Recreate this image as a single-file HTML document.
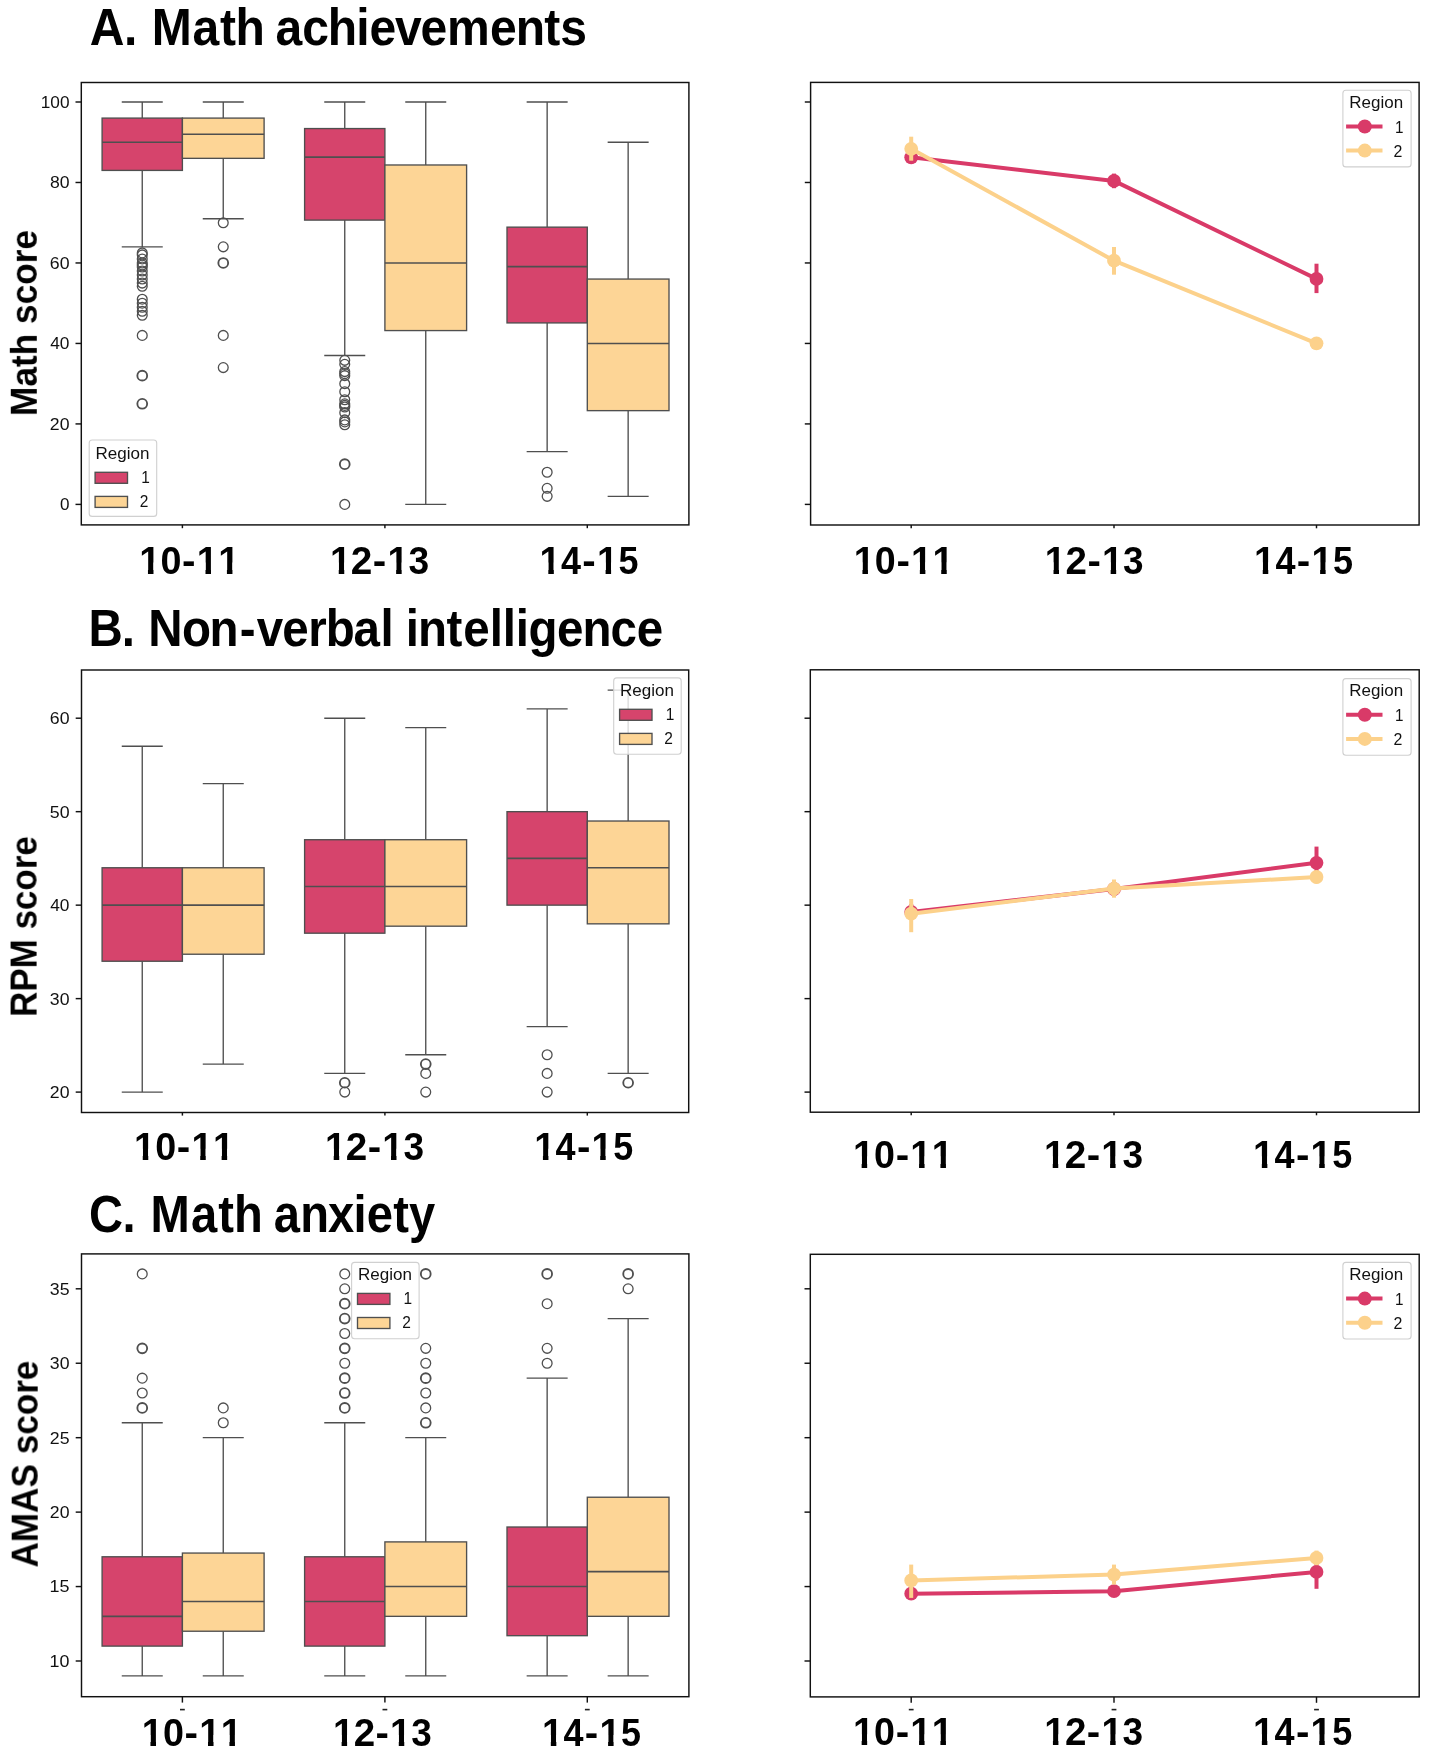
<!DOCTYPE html><html><head><meta charset="utf-8"><style>html,body{margin:0;padding:0;background:#fff;overflow:hidden;}svg{display:block;}text{font-family:"Liberation Sans",sans-serif;}</style></head><body>
<svg width="1429" height="1760" viewBox="0 0 1429 1760">
<rect x="0" y="0" width="1429" height="1760" fill="#fff"/>
<path d="M142.25 118.1V102M142.25 170.41V246.86M121.75 102H162.75M121.75 246.86H162.75" stroke="#4F4F4F" stroke-width="1.35" fill="none"/>
<rect x="102.1" y="118.1" width="80.3" height="52.31" fill="#D6446C" stroke="#4F4F4F" stroke-width="1.35"/>
<path d="M102.1 142.24H182.4" stroke="#4F4F4F" stroke-width="1.6" fill="none"/>
<circle cx="142.25" cy="252.9" r="4.9" fill="none" stroke="#4F4F4F" stroke-width="1.3"/>
<circle cx="142.25" cy="254.91" r="4.9" fill="none" stroke="#4F4F4F" stroke-width="1.3"/>
<circle cx="142.25" cy="258.94" r="4.9" fill="none" stroke="#4F4F4F" stroke-width="1.3"/>
<circle cx="142.25" cy="262.96" r="4.9" fill="none" stroke="#4F4F4F" stroke-width="1.3"/>
<circle cx="142.25" cy="264.97" r="4.9" fill="none" stroke="#4F4F4F" stroke-width="1.3"/>
<circle cx="142.25" cy="266.98" r="4.9" fill="none" stroke="#4F4F4F" stroke-width="1.3"/>
<circle cx="142.25" cy="271.01" r="4.9" fill="none" stroke="#4F4F4F" stroke-width="1.3"/>
<circle cx="142.25" cy="275.03" r="4.9" fill="none" stroke="#4F4F4F" stroke-width="1.3"/>
<circle cx="142.25" cy="279.06" r="4.9" fill="none" stroke="#4F4F4F" stroke-width="1.3"/>
<circle cx="142.25" cy="283.08" r="4.9" fill="none" stroke="#4F4F4F" stroke-width="1.3"/>
<circle cx="142.25" cy="286.3" r="4.9" fill="none" stroke="#4F4F4F" stroke-width="1.3"/>
<circle cx="142.25" cy="299.18" r="4.9" fill="none" stroke="#4F4F4F" stroke-width="1.3"/>
<circle cx="142.25" cy="303.2" r="4.9" fill="none" stroke="#4F4F4F" stroke-width="1.3"/>
<circle cx="142.25" cy="307.22" r="4.9" fill="none" stroke="#4F4F4F" stroke-width="1.3"/>
<circle cx="142.25" cy="311.25" r="4.9" fill="none" stroke="#4F4F4F" stroke-width="1.3"/>
<circle cx="142.25" cy="315.27" r="4.9" fill="none" stroke="#4F4F4F" stroke-width="1.3"/>
<circle cx="142.25" cy="335.39" r="4.9" fill="none" stroke="#4F4F4F" stroke-width="1.3"/>
<circle cx="142.25" cy="375.63" r="4.9" fill="none" stroke="#4F4F4F" stroke-width="1.85"/>
<circle cx="142.25" cy="403.8" r="4.9" fill="none" stroke="#4F4F4F" stroke-width="1.85"/>
<path d="M223.25 118.1V102M223.25 158.34V218.7M202.75 102H243.75M202.75 218.7H243.75" stroke="#4F4F4F" stroke-width="1.35" fill="none"/>
<rect x="182.4" y="118.1" width="81.7" height="40.24" fill="#FDD596" stroke="#4F4F4F" stroke-width="1.35"/>
<path d="M182.4 134.19H264.1" stroke="#4F4F4F" stroke-width="1.6" fill="none"/>
<circle cx="223.25" cy="222.72" r="4.9" fill="none" stroke="#4F4F4F" stroke-width="1.3"/>
<circle cx="223.25" cy="246.86" r="4.9" fill="none" stroke="#4F4F4F" stroke-width="1.3"/>
<circle cx="223.25" cy="262.96" r="4.9" fill="none" stroke="#4F4F4F" stroke-width="1.85"/>
<circle cx="223.25" cy="335.39" r="4.9" fill="none" stroke="#4F4F4F" stroke-width="1.3"/>
<circle cx="223.25" cy="367.58" r="4.9" fill="none" stroke="#4F4F4F" stroke-width="1.3"/>
<path d="M344.75 128.56V102M344.75 220.1V355.51M324.25 102H365.25M324.25 355.51H365.25" stroke="#4F4F4F" stroke-width="1.35" fill="none"/>
<rect x="304.6" y="128.56" width="80.3" height="91.55" fill="#D6446C" stroke="#4F4F4F" stroke-width="1.35"/>
<path d="M304.6 157.13H384.9" stroke="#4F4F4F" stroke-width="1.6" fill="none"/>
<circle cx="344.75" cy="360.34" r="4.9" fill="none" stroke="#4F4F4F" stroke-width="1.3"/>
<circle cx="344.75" cy="364.36" r="4.9" fill="none" stroke="#4F4F4F" stroke-width="1.3"/>
<circle cx="344.75" cy="371.61" r="4.9" fill="none" stroke="#4F4F4F" stroke-width="1.3"/>
<circle cx="344.75" cy="373.62" r="4.9" fill="none" stroke="#4F4F4F" stroke-width="1.3"/>
<circle cx="344.75" cy="375.63" r="4.9" fill="none" stroke="#4F4F4F" stroke-width="1.3"/>
<circle cx="344.75" cy="383.68" r="4.9" fill="none" stroke="#4F4F4F" stroke-width="1.3"/>
<circle cx="344.75" cy="391.73" r="4.9" fill="none" stroke="#4F4F4F" stroke-width="1.3"/>
<circle cx="344.75" cy="399.78" r="4.9" fill="none" stroke="#4F4F4F" stroke-width="1.3"/>
<circle cx="344.75" cy="403.8" r="4.9" fill="none" stroke="#4F4F4F" stroke-width="1.3"/>
<circle cx="344.75" cy="405.41" r="4.9" fill="none" stroke="#4F4F4F" stroke-width="1.3"/>
<circle cx="344.75" cy="407.02" r="4.9" fill="none" stroke="#4F4F4F" stroke-width="1.3"/>
<circle cx="344.75" cy="412.65" r="4.9" fill="none" stroke="#4F4F4F" stroke-width="1.3"/>
<circle cx="344.75" cy="419.9" r="4.9" fill="none" stroke="#4F4F4F" stroke-width="1.3"/>
<circle cx="344.75" cy="421.91" r="4.9" fill="none" stroke="#4F4F4F" stroke-width="1.3"/>
<circle cx="344.75" cy="424.72" r="4.9" fill="none" stroke="#4F4F4F" stroke-width="1.3"/>
<circle cx="344.75" cy="464.16" r="4.9" fill="none" stroke="#4F4F4F" stroke-width="1.85"/>
<circle cx="344.75" cy="504.4" r="4.9" fill="none" stroke="#4F4F4F" stroke-width="1.3"/>
<path d="M425.75 164.98V102M425.75 330.56V504.4M405.25 102H446.25M405.25 504.4H446.25" stroke="#4F4F4F" stroke-width="1.35" fill="none"/>
<rect x="384.9" y="164.98" width="81.7" height="165.59" fill="#FDD596" stroke="#4F4F4F" stroke-width="1.35"/>
<path d="M384.9 262.96H466.6" stroke="#4F4F4F" stroke-width="1.6" fill="none"/>
<path d="M547.15 227.15V102M547.15 322.92V451.69M526.65 102H567.65M526.65 451.69H567.65" stroke="#4F4F4F" stroke-width="1.35" fill="none"/>
<rect x="507" y="227.15" width="80.3" height="95.77" fill="#D6446C" stroke="#4F4F4F" stroke-width="1.35"/>
<path d="M507 266.58H587.3" stroke="#4F4F4F" stroke-width="1.6" fill="none"/>
<circle cx="547.15" cy="472.21" r="4.9" fill="none" stroke="#4F4F4F" stroke-width="1.3"/>
<circle cx="547.15" cy="488.3" r="4.9" fill="none" stroke="#4F4F4F" stroke-width="1.3"/>
<circle cx="547.15" cy="496.35" r="4.9" fill="none" stroke="#4F4F4F" stroke-width="1.3"/>
<path d="M628.15 279.06V142.24M628.15 410.64V496.35M607.65 142.24H648.65M607.65 496.35H648.65" stroke="#4F4F4F" stroke-width="1.35" fill="none"/>
<rect x="587.3" y="279.06" width="81.7" height="131.58" fill="#FDD596" stroke="#4F4F4F" stroke-width="1.35"/>
<path d="M587.3 343.44H669" stroke="#4F4F4F" stroke-width="1.6" fill="none"/>
<rect x="81.3" y="82.5" width="607.6" height="442.4" fill="none" stroke="#111111" stroke-width="1.45"/>
<path d="M75.5 504.4H81.3" stroke="#111111" stroke-width="1.45"/>
<path d="M75.5 423.92H81.3" stroke="#111111" stroke-width="1.45"/>
<path d="M75.5 343.44H81.3" stroke="#111111" stroke-width="1.45"/>
<path d="M75.5 262.96H81.3" stroke="#111111" stroke-width="1.45"/>
<path d="M75.5 182.48H81.3" stroke="#111111" stroke-width="1.45"/>
<path d="M75.5 102H81.3" stroke="#111111" stroke-width="1.45"/>
<path d="M182.4 524.9V528.2" stroke="#111111" stroke-width="1.45"/>
<path d="M384.9 524.9V528.2" stroke="#111111" stroke-width="1.45"/>
<path d="M587.3 524.9V528.2" stroke="#111111" stroke-width="1.45"/>
<rect x="89.2" y="440" width="67.5" height="76.4" rx="3" ry="3" fill="#fff" fill-opacity="0.8" stroke="#d0d0d0" stroke-width="1.1"/>
<rect x="95.1" y="472.3" width="32.4" height="11" fill="#D6446C" stroke="#4F4F4F" stroke-width="1.35"/>
<rect x="95.1" y="496.4" width="32.4" height="11" fill="#FDD596" stroke="#4F4F4F" stroke-width="1.35"/>
<rect x="810.6" y="82.4" width="608.5" height="442.6" fill="none" stroke="#111111" stroke-width="1.45"/>
<path d="M804.8 504.4H810.6" stroke="#111111" stroke-width="1.45"/>
<path d="M804.8 423.92H810.6" stroke="#111111" stroke-width="1.45"/>
<path d="M804.8 343.44H810.6" stroke="#111111" stroke-width="1.45"/>
<path d="M804.8 262.96H810.6" stroke="#111111" stroke-width="1.45"/>
<path d="M804.8 182.48H810.6" stroke="#111111" stroke-width="1.45"/>
<path d="M804.8 102H810.6" stroke="#111111" stroke-width="1.45"/>
<path d="M911.2 525V528.3" stroke="#111111" stroke-width="1.45"/>
<path d="M1114 525V528.3" stroke="#111111" stroke-width="1.45"/>
<path d="M1316.5 525V528.3" stroke="#111111" stroke-width="1.45"/>
<path d="M911.2 157.3 L1114 180.9 L1316.5 278.9" stroke="#D93A68" stroke-width="4" fill="none" stroke-linejoin="round"/>
<circle cx="911.2" cy="157.3" r="6.9" fill="#D93A68"/>
<path d="M911.2 153.4V161.2" stroke="#D93A68" stroke-width="4"/>
<circle cx="1114" cy="180.9" r="6.9" fill="#D93A68"/>
<path d="M1114 173.6V188.2" stroke="#D93A68" stroke-width="4"/>
<circle cx="1316.5" cy="278.9" r="6.9" fill="#D93A68"/>
<path d="M1316.5 263.7V293.1" stroke="#D93A68" stroke-width="4"/>
<path d="M911.2 148.8 L1114 260.7 L1316.5 343.3" stroke="#FCD18B" stroke-width="4" fill="none" stroke-linejoin="round"/>
<circle cx="911.2" cy="148.8" r="6.9" fill="#FCD18B"/>
<path d="M911.2 136.7V160.7" stroke="#FCD18B" stroke-width="4"/>
<circle cx="1114" cy="260.7" r="6.9" fill="#FCD18B"/>
<path d="M1114 247V274.7" stroke="#FCD18B" stroke-width="4"/>
<circle cx="1316.5" cy="343.3" r="6.9" fill="#FCD18B"/>
<path d="M1316.5 338.5V348" stroke="#FCD18B" stroke-width="4"/>
<rect x="1342.9" y="90.3" width="68.2" height="76.6" rx="3" ry="3" fill="#fff" fill-opacity="0.8" stroke="#d0d0d0" stroke-width="1.1"/>
<line x1="1346.1" y1="126.5" x2="1382.5" y2="126.5" stroke="#D93A68" stroke-width="4"/>
<circle cx="1364.8" cy="126.5" r="7" fill="#D93A68"/>
<line x1="1346.1" y1="150.6" x2="1382.5" y2="150.6" stroke="#FCD18B" stroke-width="4"/>
<circle cx="1364.8" cy="150.6" r="7" fill="#FCD18B"/>
<path d="M142.25 867.76V746.24M142.25 961.23V1092.1M121.75 746.24H162.75M121.75 1092.1H162.75" stroke="#4F4F4F" stroke-width="1.35" fill="none"/>
<rect x="102.1" y="867.76" width="80.3" height="93.48" fill="#D6446C" stroke="#4F4F4F" stroke-width="1.35"/>
<path d="M102.1 905.15H182.4" stroke="#4F4F4F" stroke-width="1.6" fill="none"/>
<path d="M223.25 867.76V783.63M223.25 954.22V1064.06M202.75 783.63H243.75M202.75 1064.06H243.75" stroke="#4F4F4F" stroke-width="1.35" fill="none"/>
<rect x="182.4" y="867.76" width="81.7" height="86.46" fill="#FDD596" stroke="#4F4F4F" stroke-width="1.35"/>
<path d="M182.4 905.15H264.1" stroke="#4F4F4F" stroke-width="1.6" fill="none"/>
<path d="M344.75 839.72V718.2M344.75 933.19V1073.4M324.25 718.2H365.25M324.25 1073.4H365.25" stroke="#4F4F4F" stroke-width="1.35" fill="none"/>
<rect x="304.6" y="839.72" width="80.3" height="93.47" fill="#D6446C" stroke="#4F4F4F" stroke-width="1.35"/>
<path d="M304.6 886.45H384.9" stroke="#4F4F4F" stroke-width="1.6" fill="none"/>
<circle cx="344.75" cy="1082.75" r="4.9" fill="none" stroke="#4F4F4F" stroke-width="1.85"/>
<circle cx="344.75" cy="1092.1" r="4.9" fill="none" stroke="#4F4F4F" stroke-width="1.3"/>
<path d="M425.75 839.72V727.55M425.75 926.18V1054.71M405.25 727.55H446.25M405.25 1054.71H446.25" stroke="#4F4F4F" stroke-width="1.35" fill="none"/>
<rect x="384.9" y="839.72" width="81.7" height="86.46" fill="#FDD596" stroke="#4F4F4F" stroke-width="1.35"/>
<path d="M384.9 886.45H466.6" stroke="#4F4F4F" stroke-width="1.6" fill="none"/>
<circle cx="425.75" cy="1064.06" r="4.9" fill="none" stroke="#4F4F4F" stroke-width="1.85"/>
<circle cx="425.75" cy="1073.4" r="4.9" fill="none" stroke="#4F4F4F" stroke-width="1.3"/>
<circle cx="425.75" cy="1092.1" r="4.9" fill="none" stroke="#4F4F4F" stroke-width="1.3"/>
<path d="M547.15 811.67V708.85M547.15 905.15V1026.67M526.65 708.85H567.65M526.65 1026.67H567.65" stroke="#4F4F4F" stroke-width="1.35" fill="none"/>
<rect x="507" y="811.67" width="80.3" height="93.47" fill="#D6446C" stroke="#4F4F4F" stroke-width="1.35"/>
<path d="M507 858.41H587.3" stroke="#4F4F4F" stroke-width="1.6" fill="none"/>
<circle cx="547.15" cy="1054.71" r="4.9" fill="none" stroke="#4F4F4F" stroke-width="1.3"/>
<circle cx="547.15" cy="1073.4" r="4.9" fill="none" stroke="#4F4F4F" stroke-width="1.3"/>
<circle cx="547.15" cy="1092.1" r="4.9" fill="none" stroke="#4F4F4F" stroke-width="1.3"/>
<path d="M628.15 821.02V690.16M628.15 923.84V1073.4M607.65 690.16H648.65M607.65 1073.4H648.65" stroke="#4F4F4F" stroke-width="1.35" fill="none"/>
<rect x="587.3" y="821.02" width="81.7" height="102.82" fill="#FDD596" stroke="#4F4F4F" stroke-width="1.35"/>
<path d="M587.3 867.76H669" stroke="#4F4F4F" stroke-width="1.6" fill="none"/>
<circle cx="628.15" cy="1082.75" r="4.9" fill="none" stroke="#4F4F4F" stroke-width="1.85"/>
<rect x="81.5" y="670" width="607.2" height="442.5" fill="none" stroke="#111111" stroke-width="1.45"/>
<path d="M75.7 1092.1H81.5" stroke="#111111" stroke-width="1.45"/>
<path d="M75.7 998.62H81.5" stroke="#111111" stroke-width="1.45"/>
<path d="M75.7 905.15H81.5" stroke="#111111" stroke-width="1.45"/>
<path d="M75.7 811.67H81.5" stroke="#111111" stroke-width="1.45"/>
<path d="M75.7 718.2H81.5" stroke="#111111" stroke-width="1.45"/>
<path d="M182.4 1112.5V1115.6" stroke="#111111" stroke-width="1.45"/>
<path d="M384.9 1112.5V1115.6" stroke="#111111" stroke-width="1.45"/>
<path d="M587.3 1112.5V1115.6" stroke="#111111" stroke-width="1.45"/>
<rect x="613.7" y="677.9" width="67.5" height="76.4" rx="3" ry="3" fill="#fff" fill-opacity="0.8" stroke="#d0d0d0" stroke-width="1.1"/>
<rect x="619.6" y="709.3" width="32.4" height="11" fill="#D6446C" stroke="#4F4F4F" stroke-width="1.35"/>
<rect x="619.6" y="733.4" width="32.4" height="11" fill="#FDD596" stroke="#4F4F4F" stroke-width="1.35"/>
<rect x="810.3" y="669.8" width="608.9" height="442.4" fill="none" stroke="#111111" stroke-width="1.45"/>
<path d="M804.5 1092.1H810.3" stroke="#111111" stroke-width="1.45"/>
<path d="M804.5 998.62H810.3" stroke="#111111" stroke-width="1.45"/>
<path d="M804.5 905.15H810.3" stroke="#111111" stroke-width="1.45"/>
<path d="M804.5 811.67H810.3" stroke="#111111" stroke-width="1.45"/>
<path d="M804.5 718.2H810.3" stroke="#111111" stroke-width="1.45"/>
<path d="M911.2 1112.2V1115.3" stroke="#111111" stroke-width="1.45"/>
<path d="M1114 1112.2V1115.3" stroke="#111111" stroke-width="1.45"/>
<path d="M1316.5 1112.2V1115.3" stroke="#111111" stroke-width="1.45"/>
<path d="M911.2 912 L1114 889 L1316.5 862.8" stroke="#D93A68" stroke-width="4" fill="none" stroke-linejoin="round"/>
<circle cx="911.2" cy="912" r="6.9" fill="#D93A68"/>
<path d="M911.2 904V920" stroke="#D93A68" stroke-width="4"/>
<circle cx="1114" cy="889" r="6.9" fill="#D93A68"/>
<path d="M1114 882V896" stroke="#D93A68" stroke-width="4"/>
<circle cx="1316.5" cy="862.8" r="6.9" fill="#D93A68"/>
<path d="M1316.5 846.6V879" stroke="#D93A68" stroke-width="4"/>
<path d="M911.2 913.7 L1114 888.6 L1316.5 877" stroke="#FCD18B" stroke-width="4" fill="none" stroke-linejoin="round"/>
<circle cx="911.2" cy="913.7" r="6.9" fill="#FCD18B"/>
<path d="M911.2 899V932.2" stroke="#FCD18B" stroke-width="4"/>
<circle cx="1114" cy="888.6" r="6.9" fill="#FCD18B"/>
<path d="M1114 879.5V897.7" stroke="#FCD18B" stroke-width="4"/>
<circle cx="1316.5" cy="877" r="6.9" fill="#FCD18B"/>
<path d="M1316.5 870.5V883.5" stroke="#FCD18B" stroke-width="4"/>
<rect x="1342.9" y="678.6" width="68.2" height="76.6" rx="3" ry="3" fill="#fff" fill-opacity="0.8" stroke="#d0d0d0" stroke-width="1.1"/>
<line x1="1346.1" y1="714.8" x2="1382.5" y2="714.8" stroke="#D93A68" stroke-width="4"/>
<circle cx="1364.8" cy="714.8" r="7" fill="#D93A68"/>
<line x1="1346.1" y1="738.9" x2="1382.5" y2="738.9" stroke="#FCD18B" stroke-width="4"/>
<circle cx="1364.8" cy="738.9" r="7" fill="#FCD18B"/>
<path d="M142.25 1556.78V1422.79M142.25 1646.11V1675.89M121.75 1422.79H162.75M121.75 1675.89H162.75" stroke="#4F4F4F" stroke-width="1.35" fill="none"/>
<rect x="102.1" y="1556.78" width="80.3" height="89.33" fill="#D6446C" stroke="#4F4F4F" stroke-width="1.35"/>
<path d="M102.1 1616.34H182.4" stroke="#4F4F4F" stroke-width="1.6" fill="none"/>
<circle cx="142.25" cy="1407.9" r="4.9" fill="none" stroke="#4F4F4F" stroke-width="1.85"/>
<circle cx="142.25" cy="1393.02" r="4.9" fill="none" stroke="#4F4F4F" stroke-width="1.3"/>
<circle cx="142.25" cy="1378.13" r="4.9" fill="none" stroke="#4F4F4F" stroke-width="1.3"/>
<circle cx="142.25" cy="1348.35" r="4.9" fill="none" stroke="#4F4F4F" stroke-width="1.85"/>
<circle cx="142.25" cy="1273.91" r="4.9" fill="none" stroke="#4F4F4F" stroke-width="1.3"/>
<path d="M223.25 1553.06V1437.68M223.25 1631.22V1675.89M202.75 1437.68H243.75M202.75 1675.89H243.75" stroke="#4F4F4F" stroke-width="1.35" fill="none"/>
<rect x="182.4" y="1553.06" width="81.7" height="78.16" fill="#FDD596" stroke="#4F4F4F" stroke-width="1.35"/>
<path d="M182.4 1601.45H264.1" stroke="#4F4F4F" stroke-width="1.6" fill="none"/>
<circle cx="223.25" cy="1422.79" r="4.9" fill="none" stroke="#4F4F4F" stroke-width="1.3"/>
<circle cx="223.25" cy="1407.9" r="4.9" fill="none" stroke="#4F4F4F" stroke-width="1.3"/>
<path d="M344.75 1556.78V1422.79M344.75 1646.11V1675.89M324.25 1422.79H365.25M324.25 1675.89H365.25" stroke="#4F4F4F" stroke-width="1.35" fill="none"/>
<rect x="304.6" y="1556.78" width="80.3" height="89.33" fill="#D6446C" stroke="#4F4F4F" stroke-width="1.35"/>
<path d="M304.6 1601.45H384.9" stroke="#4F4F4F" stroke-width="1.6" fill="none"/>
<circle cx="344.75" cy="1407.9" r="4.9" fill="none" stroke="#4F4F4F" stroke-width="1.85"/>
<circle cx="344.75" cy="1393.02" r="4.9" fill="none" stroke="#4F4F4F" stroke-width="1.85"/>
<circle cx="344.75" cy="1378.13" r="4.9" fill="none" stroke="#4F4F4F" stroke-width="1.85"/>
<circle cx="344.75" cy="1363.24" r="4.9" fill="none" stroke="#4F4F4F" stroke-width="1.3"/>
<circle cx="344.75" cy="1348.35" r="4.9" fill="none" stroke="#4F4F4F" stroke-width="1.85"/>
<circle cx="344.75" cy="1333.46" r="4.9" fill="none" stroke="#4F4F4F" stroke-width="1.3"/>
<circle cx="344.75" cy="1318.58" r="4.9" fill="none" stroke="#4F4F4F" stroke-width="1.85"/>
<circle cx="344.75" cy="1303.69" r="4.9" fill="none" stroke="#4F4F4F" stroke-width="1.85"/>
<circle cx="344.75" cy="1288.8" r="4.9" fill="none" stroke="#4F4F4F" stroke-width="1.3"/>
<circle cx="344.75" cy="1273.91" r="4.9" fill="none" stroke="#4F4F4F" stroke-width="1.3"/>
<path d="M425.75 1541.9V1437.68M425.75 1616.34V1675.89M405.25 1437.68H446.25M405.25 1675.89H446.25" stroke="#4F4F4F" stroke-width="1.35" fill="none"/>
<rect x="384.9" y="1541.9" width="81.7" height="74.44" fill="#FDD596" stroke="#4F4F4F" stroke-width="1.35"/>
<path d="M384.9 1586.56H466.6" stroke="#4F4F4F" stroke-width="1.6" fill="none"/>
<circle cx="425.75" cy="1422.79" r="4.9" fill="none" stroke="#4F4F4F" stroke-width="1.85"/>
<circle cx="425.75" cy="1407.9" r="4.9" fill="none" stroke="#4F4F4F" stroke-width="1.3"/>
<circle cx="425.75" cy="1393.02" r="4.9" fill="none" stroke="#4F4F4F" stroke-width="1.3"/>
<circle cx="425.75" cy="1378.13" r="4.9" fill="none" stroke="#4F4F4F" stroke-width="1.85"/>
<circle cx="425.75" cy="1363.24" r="4.9" fill="none" stroke="#4F4F4F" stroke-width="1.3"/>
<circle cx="425.75" cy="1348.35" r="4.9" fill="none" stroke="#4F4F4F" stroke-width="1.3"/>
<circle cx="425.75" cy="1273.91" r="4.9" fill="none" stroke="#4F4F4F" stroke-width="1.85"/>
<path d="M547.15 1527.01V1378.13M547.15 1635.69V1675.89M526.65 1378.13H567.65M526.65 1675.89H567.65" stroke="#4F4F4F" stroke-width="1.35" fill="none"/>
<rect x="507" y="1527.01" width="80.3" height="108.68" fill="#D6446C" stroke="#4F4F4F" stroke-width="1.35"/>
<path d="M507 1586.56H587.3" stroke="#4F4F4F" stroke-width="1.6" fill="none"/>
<circle cx="547.15" cy="1363.24" r="4.9" fill="none" stroke="#4F4F4F" stroke-width="1.3"/>
<circle cx="547.15" cy="1348.35" r="4.9" fill="none" stroke="#4F4F4F" stroke-width="1.3"/>
<circle cx="547.15" cy="1303.69" r="4.9" fill="none" stroke="#4F4F4F" stroke-width="1.3"/>
<circle cx="547.15" cy="1273.91" r="4.9" fill="none" stroke="#4F4F4F" stroke-width="1.85"/>
<path d="M628.15 1497.23V1318.58M628.15 1616.34V1675.89M607.65 1318.58H648.65M607.65 1675.89H648.65" stroke="#4F4F4F" stroke-width="1.35" fill="none"/>
<rect x="587.3" y="1497.23" width="81.7" height="119.1" fill="#FDD596" stroke="#4F4F4F" stroke-width="1.35"/>
<path d="M587.3 1571.67H669" stroke="#4F4F4F" stroke-width="1.6" fill="none"/>
<circle cx="628.15" cy="1288.8" r="4.9" fill="none" stroke="#4F4F4F" stroke-width="1.3"/>
<circle cx="628.15" cy="1273.91" r="4.9" fill="none" stroke="#4F4F4F" stroke-width="1.85"/>
<rect x="81.5" y="1253.9" width="607.4" height="442.8" fill="none" stroke="#111111" stroke-width="1.45"/>
<path d="M75.7 1661H81.5" stroke="#111111" stroke-width="1.45"/>
<path d="M75.7 1586.56H81.5" stroke="#111111" stroke-width="1.45"/>
<path d="M75.7 1512.12H81.5" stroke="#111111" stroke-width="1.45"/>
<path d="M75.7 1437.68H81.5" stroke="#111111" stroke-width="1.45"/>
<path d="M75.7 1363.24H81.5" stroke="#111111" stroke-width="1.45"/>
<path d="M75.7 1288.8H81.5" stroke="#111111" stroke-width="1.45"/>
<path d="M182.4 1696.7V1702.6" stroke="#111111" stroke-width="1.45"/>
<path d="M384.9 1696.7V1702.6" stroke="#111111" stroke-width="1.45"/>
<path d="M587.3 1696.7V1702.6" stroke="#111111" stroke-width="1.45"/>
<rect x="351.6" y="1262.4" width="67.5" height="76.4" rx="3" ry="3" fill="#fff" fill-opacity="0.8" stroke="#d0d0d0" stroke-width="1.1"/>
<rect x="357.5" y="1293.4" width="32.4" height="11" fill="#D6446C" stroke="#4F4F4F" stroke-width="1.35"/>
<rect x="357.5" y="1317.5" width="32.4" height="11" fill="#FDD596" stroke="#4F4F4F" stroke-width="1.35"/>
<rect x="810.3" y="1254.3" width="608.9" height="442.6" fill="none" stroke="#111111" stroke-width="1.45"/>
<path d="M804.5 1661H810.3" stroke="#111111" stroke-width="1.45"/>
<path d="M804.5 1586.56H810.3" stroke="#111111" stroke-width="1.45"/>
<path d="M804.5 1512.12H810.3" stroke="#111111" stroke-width="1.45"/>
<path d="M804.5 1437.68H810.3" stroke="#111111" stroke-width="1.45"/>
<path d="M804.5 1363.24H810.3" stroke="#111111" stroke-width="1.45"/>
<path d="M804.5 1288.8H810.3" stroke="#111111" stroke-width="1.45"/>
<path d="M911.2 1696.9V1702.8" stroke="#111111" stroke-width="1.45"/>
<path d="M1114 1696.9V1702.8" stroke="#111111" stroke-width="1.45"/>
<path d="M1316.5 1696.9V1702.8" stroke="#111111" stroke-width="1.45"/>
<path d="M911.2 1593.7 L1114 1591.2 L1316.5 1571.9" stroke="#D93A68" stroke-width="4" fill="none" stroke-linejoin="round"/>
<circle cx="911.2" cy="1593.7" r="6.9" fill="#D93A68"/>
<path d="M911.2 1587V1600" stroke="#D93A68" stroke-width="4"/>
<circle cx="1114" cy="1591.2" r="6.9" fill="#D93A68"/>
<path d="M1114 1585V1597" stroke="#D93A68" stroke-width="4"/>
<circle cx="1316.5" cy="1571.9" r="6.9" fill="#D93A68"/>
<path d="M1316.5 1555V1588.8" stroke="#D93A68" stroke-width="4"/>
<path d="M911.2 1580.4 L1114 1574.6 L1316.5 1557.9" stroke="#FCD18B" stroke-width="4" fill="none" stroke-linejoin="round"/>
<circle cx="911.2" cy="1580.4" r="6.9" fill="#FCD18B"/>
<path d="M911.2 1564.6V1597.9" stroke="#FCD18B" stroke-width="4"/>
<circle cx="1114" cy="1574.6" r="6.9" fill="#FCD18B"/>
<path d="M1114 1564.6V1584.6" stroke="#FCD18B" stroke-width="4"/>
<circle cx="1316.5" cy="1557.9" r="6.9" fill="#FCD18B"/>
<path d="M1316.5 1550.6V1565.2" stroke="#FCD18B" stroke-width="4"/>
<rect x="1342.9" y="1262.4" width="68.2" height="76.6" rx="3" ry="3" fill="#fff" fill-opacity="0.8" stroke="#d0d0d0" stroke-width="1.1"/>
<line x1="1346.1" y1="1298.6" x2="1382.5" y2="1298.6" stroke="#D93A68" stroke-width="4"/>
<circle cx="1364.8" cy="1298.6" r="7" fill="#D93A68"/>
<line x1="1346.1" y1="1322.7" x2="1382.5" y2="1322.7" stroke="#FCD18B" stroke-width="4"/>
<circle cx="1364.8" cy="1322.7" r="7" fill="#FCD18B"/>
<path d="M180 1709.6H184.8" stroke="#222" stroke-width="1.6"/>
<path d="M382.5 1709.6H387.3" stroke="#222" stroke-width="1.6"/>
<path d="M584.9 1709.6H589.7" stroke="#222" stroke-width="1.6"/>
<path d="M908.8 1709.6H913.6" stroke="#222" stroke-width="1.6"/>
<path d="M1111.6 1709.6H1116.4" stroke="#222" stroke-width="1.6"/>
<path d="M1314.1 1709.6H1318.9" stroke="#222" stroke-width="1.6"/>
<g opacity="0.999"><defs><clipPath id="c1_38_0" clipPathUnits="userSpaceOnUse"><path d="M-13.34 -38.96H13.93V-11.13H-13.34Z M0.38 -11.32H5.89V5H0.38Z"/></clipPath></defs>
<text transform="translate(36.8,416.09) rotate(-90)" x="0" y="0" font-size="37.5" font-weight="bold" fill="#000" textLength="186.18" lengthAdjust="spacingAndGlyphs">Math score</text>
<text transform="translate(36.6,1016.87) rotate(-90)" x="0" y="0" font-size="37.5" font-weight="bold" fill="#000" textLength="180.7" lengthAdjust="spacingAndGlyphs">RPM score</text>
<text transform="translate(37.7,1567.47) rotate(-90)" x="0" y="0" font-size="37.5" font-weight="bold" fill="#000" textLength="206.89" lengthAdjust="spacingAndGlyphs">AMAS score</text>
<text x="60" y="510.3" font-size="16.2" fill="#111" textLength="9.5" lengthAdjust="spacingAndGlyphs">0</text>
<text x="49.86" y="429.82" font-size="16.2" fill="#111" textLength="19.66" lengthAdjust="spacingAndGlyphs">20</text>
<text x="50.26" y="349.34" font-size="16.2" fill="#111" textLength="19.26" lengthAdjust="spacingAndGlyphs">40</text>
<text x="49.83" y="268.86" font-size="16.2" fill="#111" textLength="19.7" lengthAdjust="spacingAndGlyphs">60</text>
<text x="49.9" y="188.38" font-size="16.2" fill="#111" textLength="19.62" lengthAdjust="spacingAndGlyphs">80</text>
<text x="40.77" y="107.9" font-size="16.2" fill="#111" textLength="28.74" lengthAdjust="spacingAndGlyphs">100</text>
<text x="95.54" y="458.8" font-size="15.6" fill="#111" textLength="53.98" lengthAdjust="spacingAndGlyphs">Region</text>
<text x="141.15" y="482.9" font-size="15.6" fill="#111" textLength="8.61" lengthAdjust="spacingAndGlyphs">1</text>
<text x="139.74" y="507" font-size="15.6" fill="#111" textLength="8.63" lengthAdjust="spacingAndGlyphs">2</text>
<text x="1349.24" y="108" font-size="15.6" fill="#111" textLength="53.88" lengthAdjust="spacingAndGlyphs">Region</text>
<text x="1394.96" y="132.6" font-size="15.6" fill="#111" textLength="8.49" lengthAdjust="spacingAndGlyphs">1</text>
<text x="1393.52" y="156.7" font-size="15.6" fill="#111" textLength="8.87" lengthAdjust="spacingAndGlyphs">2</text>
<text x="49.86" y="1098" font-size="16.2" fill="#111" textLength="19.66" lengthAdjust="spacingAndGlyphs">20</text>
<text x="49.86" y="1004.52" font-size="16.2" fill="#111" textLength="19.66" lengthAdjust="spacingAndGlyphs">30</text>
<text x="50.26" y="911.05" font-size="16.2" fill="#111" textLength="19.26" lengthAdjust="spacingAndGlyphs">40</text>
<text x="49.76" y="817.57" font-size="16.2" fill="#111" textLength="19.77" lengthAdjust="spacingAndGlyphs">50</text>
<text x="49.83" y="724.1" font-size="16.2" fill="#111" textLength="19.7" lengthAdjust="spacingAndGlyphs">60</text>
<text x="620.04" y="695.8" font-size="15.6" fill="#111" textLength="53.98" lengthAdjust="spacingAndGlyphs">Region</text>
<text x="665.65" y="719.9" font-size="15.6" fill="#111" textLength="8.61" lengthAdjust="spacingAndGlyphs">1</text>
<text x="664.24" y="744" font-size="15.6" fill="#111" textLength="8.63" lengthAdjust="spacingAndGlyphs">2</text>
<text x="1349.24" y="696.3" font-size="15.6" fill="#111" textLength="53.88" lengthAdjust="spacingAndGlyphs">Region</text>
<text x="1394.96" y="720.9" font-size="15.6" fill="#111" textLength="8.49" lengthAdjust="spacingAndGlyphs">1</text>
<text x="1393.52" y="745" font-size="15.6" fill="#111" textLength="8.87" lengthAdjust="spacingAndGlyphs">2</text>
<text x="49.63" y="1666.9" font-size="16.2" fill="#111" textLength="19.9" lengthAdjust="spacingAndGlyphs">10</text>
<text x="49.63" y="1592.46" font-size="16.2" fill="#111" textLength="19.96" lengthAdjust="spacingAndGlyphs">15</text>
<text x="49.86" y="1518.02" font-size="16.2" fill="#111" textLength="19.66" lengthAdjust="spacingAndGlyphs">20</text>
<text x="49.86" y="1443.58" font-size="16.2" fill="#111" textLength="19.72" lengthAdjust="spacingAndGlyphs">25</text>
<text x="49.86" y="1369.14" font-size="16.2" fill="#111" textLength="19.66" lengthAdjust="spacingAndGlyphs">30</text>
<text x="49.86" y="1294.7" font-size="16.2" fill="#111" textLength="19.72" lengthAdjust="spacingAndGlyphs">35</text>
<text x="357.94" y="1279.9" font-size="15.6" fill="#111" textLength="53.98" lengthAdjust="spacingAndGlyphs">Region</text>
<text x="403.55" y="1304" font-size="15.6" fill="#111" textLength="8.61" lengthAdjust="spacingAndGlyphs">1</text>
<text x="402.14" y="1328.1" font-size="15.6" fill="#111" textLength="8.63" lengthAdjust="spacingAndGlyphs">2</text>
<text x="1349.24" y="1280.1" font-size="15.6" fill="#111" textLength="53.88" lengthAdjust="spacingAndGlyphs">Region</text>
<text x="1394.96" y="1304.7" font-size="15.6" fill="#111" textLength="8.49" lengthAdjust="spacingAndGlyphs">1</text>
<text x="1393.52" y="1328.8" font-size="15.6" fill="#111" textLength="8.87" lengthAdjust="spacingAndGlyphs">2</text>
<text transform="scale(0.9371,1)" x="95.75 132.25 146.63 161.98 205.36 234.69 251.36 281.43 294.02 322.67 349.65 380.15 394.32 421.41 448.8 477.11 522.92 550.28 580.87 597.84" y="44.5" font-size="51.3" font-weight="bold" fill="#000">A. Math achievements</text>
<text transform="scale(0.9268,1)" x="95.52 131.46 145.94 159.87 196.43 226.18 258.63 276.91 304.49 332.55 351.62 381.3 410.62 424.22 437.86 451.07 481.84 499.9 528.31 542.36 556.39 570.13 601.04 628.62 658.75 687.13" y="646.1" font-size="51.3" font-weight="bold" fill="#000">B. Non-verbal intelligence</text>
<text transform="scale(0.9186,1)" x="96.93 133.5 148.12 163.95 207.92 237.61 254.68 285.09 298.01 326.76 357.02 384.77 399.29 428.06 445.19" y="1232" font-size="51.3" font-weight="bold" fill="#000">C. Math anxiety</text>
<text transform="translate(147.57,573.6) scale(1.005,1)" x="-8.34" y="0" font-size="38.0" font-weight="bold" fill="#000" clip-path="url(#c1_38_0)">1</text>
<text transform="translate(170.85,573.6) scale(0.993,1)" x="-10.54" y="0" font-size="38.0" font-weight="bold" fill="#000">0</text>
<text transform="translate(188.81,573.6) scale(1.067,1)" x="-6.31" y="0" font-size="38.0" font-weight="bold" fill="#000">-</text>
<text transform="translate(205.11,573.6) scale(1.005,1)" x="-8.34" y="0" font-size="38.0" font-weight="bold" fill="#000" clip-path="url(#c1_38_0)">1</text>
<text transform="translate(226.53,573.6) scale(1.005,1)" x="-8.34" y="0" font-size="38.0" font-weight="bold" fill="#000" clip-path="url(#c1_38_0)">1</text>
<text transform="translate(338.36,573.6) scale(1.002,1)" x="-8.34" y="0" font-size="38.0" font-weight="bold" fill="#000" clip-path="url(#c1_38_0)">1</text>
<text transform="translate(361.51,573.6) scale(1.019,1)" x="-10.46" y="0" font-size="38.0" font-weight="bold" fill="#000">2</text>
<text transform="translate(379.49,573.6) scale(1.064,1)" x="-6.31" y="0" font-size="38.0" font-weight="bold" fill="#000">-</text>
<text transform="translate(395.76,573.6) scale(1.002,1)" x="-8.34" y="0" font-size="38.0" font-weight="bold" fill="#000" clip-path="url(#c1_38_0)">1</text>
<text transform="translate(418.68,573.6) scale(0.977,1)" x="-10.32" y="0" font-size="38.0" font-weight="bold" fill="#000">3</text>
<text transform="translate(547.94,573.6) scale(1.000,1)" x="-8.34" y="0" font-size="38.0" font-weight="bold" fill="#000" clip-path="url(#c1_38_0)">1</text>
<text transform="translate(571.13,573.6) scale(0.947,1)" x="-10.75" y="0" font-size="38.0" font-weight="bold" fill="#000">4</text>
<text transform="translate(588.99,573.6) scale(1.062,1)" x="-6.31" y="0" font-size="38.0" font-weight="bold" fill="#000">-</text>
<text transform="translate(605.21,573.6) scale(1.000,1)" x="-8.34" y="0" font-size="38.0" font-weight="bold" fill="#000" clip-path="url(#c1_38_0)">1</text>
<text transform="translate(628.56,573.6) scale(0.945,1)" x="-10.62" y="0" font-size="38.0" font-weight="bold" fill="#000">5</text>
<text transform="translate(862.06,573.5) scale(1.003,1)" x="-8.34" y="0" font-size="38.0" font-weight="bold" fill="#000" clip-path="url(#c1_38_0)">1</text>
<text transform="translate(885.29,573.5) scale(0.991,1)" x="-10.54" y="0" font-size="38.0" font-weight="bold" fill="#000">0</text>
<text transform="translate(903.2,573.5) scale(1.064,1)" x="-6.31" y="0" font-size="38.0" font-weight="bold" fill="#000">-</text>
<text transform="translate(919.47,573.5) scale(1.003,1)" x="-8.34" y="0" font-size="38.0" font-weight="bold" fill="#000" clip-path="url(#c1_38_0)">1</text>
<text transform="translate(940.84,573.5) scale(1.003,1)" x="-8.34" y="0" font-size="38.0" font-weight="bold" fill="#000" clip-path="url(#c1_38_0)">1</text>
<text transform="translate(1053.13,573.5) scale(0.998,1)" x="-8.34" y="0" font-size="38.0" font-weight="bold" fill="#000" clip-path="url(#c1_38_0)">1</text>
<text transform="translate(1076.19,573.5) scale(1.014,1)" x="-10.46" y="0" font-size="38.0" font-weight="bold" fill="#000">2</text>
<text transform="translate(1094.1,573.5) scale(1.059,1)" x="-6.31" y="0" font-size="38.0" font-weight="bold" fill="#000">-</text>
<text transform="translate(1110.29,573.5) scale(0.998,1)" x="-8.34" y="0" font-size="38.0" font-weight="bold" fill="#000" clip-path="url(#c1_38_0)">1</text>
<text transform="translate(1133.12,573.5) scale(0.972,1)" x="-10.32" y="0" font-size="38.0" font-weight="bold" fill="#000">3</text>
<text transform="translate(1262.36,573.5) scale(1.002,1)" x="-8.34" y="0" font-size="38.0" font-weight="bold" fill="#000" clip-path="url(#c1_38_0)">1</text>
<text transform="translate(1285.59,573.5) scale(0.949,1)" x="-10.75" y="0" font-size="38.0" font-weight="bold" fill="#000">4</text>
<text transform="translate(1303.48,573.5) scale(1.064,1)" x="-6.31" y="0" font-size="38.0" font-weight="bold" fill="#000">-</text>
<text transform="translate(1319.74,573.5) scale(1.002,1)" x="-8.34" y="0" font-size="38.0" font-weight="bold" fill="#000" clip-path="url(#c1_38_0)">1</text>
<text transform="translate(1343.15,573.5) scale(0.947,1)" x="-10.62" y="0" font-size="38.0" font-weight="bold" fill="#000">5</text>
<text transform="translate(142.36,1159.8) scale(1.004,1)" x="-8.34" y="0" font-size="38.0" font-weight="bold" fill="#000" clip-path="url(#c1_38_0)">1</text>
<text transform="translate(165.62,1159.8) scale(0.992,1)" x="-10.54" y="0" font-size="38.0" font-weight="bold" fill="#000">0</text>
<text transform="translate(183.56,1159.8) scale(1.065,1)" x="-6.31" y="0" font-size="38.0" font-weight="bold" fill="#000">-</text>
<text transform="translate(199.84,1159.8) scale(1.004,1)" x="-8.34" y="0" font-size="38.0" font-weight="bold" fill="#000" clip-path="url(#c1_38_0)">1</text>
<text transform="translate(221.24,1159.8) scale(1.004,1)" x="-8.34" y="0" font-size="38.0" font-weight="bold" fill="#000" clip-path="url(#c1_38_0)">1</text>
<text transform="translate(333.34,1159.8) scale(1.000,1)" x="-8.34" y="0" font-size="38.0" font-weight="bold" fill="#000" clip-path="url(#c1_38_0)">1</text>
<text transform="translate(356.45,1159.8) scale(1.017,1)" x="-10.46" y="0" font-size="38.0" font-weight="bold" fill="#000">2</text>
<text transform="translate(374.4,1159.8) scale(1.062,1)" x="-6.31" y="0" font-size="38.0" font-weight="bold" fill="#000">-</text>
<text transform="translate(390.62,1159.8) scale(1.000,1)" x="-8.34" y="0" font-size="38.0" font-weight="bold" fill="#000" clip-path="url(#c1_38_0)">1</text>
<text transform="translate(413.5,1159.8) scale(0.975,1)" x="-10.32" y="0" font-size="38.0" font-weight="bold" fill="#000">3</text>
<text transform="translate(542.54,1159.8) scale(1.000,1)" x="-8.34" y="0" font-size="38.0" font-weight="bold" fill="#000" clip-path="url(#c1_38_0)">1</text>
<text transform="translate(565.73,1159.8) scale(0.947,1)" x="-10.75" y="0" font-size="38.0" font-weight="bold" fill="#000">4</text>
<text transform="translate(583.59,1159.8) scale(1.062,1)" x="-6.31" y="0" font-size="38.0" font-weight="bold" fill="#000">-</text>
<text transform="translate(599.81,1159.8) scale(1.000,1)" x="-8.34" y="0" font-size="38.0" font-weight="bold" fill="#000" clip-path="url(#c1_38_0)">1</text>
<text transform="translate(623.16,1159.8) scale(0.945,1)" x="-10.62" y="0" font-size="38.0" font-weight="bold" fill="#000">5</text>
<text transform="translate(861.26,1167.5) scale(1.003,1)" x="-8.34" y="0" font-size="38.0" font-weight="bold" fill="#000" clip-path="url(#c1_38_0)">1</text>
<text transform="translate(884.49,1167.5) scale(0.991,1)" x="-10.54" y="0" font-size="38.0" font-weight="bold" fill="#000">0</text>
<text transform="translate(902.4,1167.5) scale(1.064,1)" x="-6.31" y="0" font-size="38.0" font-weight="bold" fill="#000">-</text>
<text transform="translate(918.67,1167.5) scale(1.003,1)" x="-8.34" y="0" font-size="38.0" font-weight="bold" fill="#000" clip-path="url(#c1_38_0)">1</text>
<text transform="translate(940.04,1167.5) scale(1.003,1)" x="-8.34" y="0" font-size="38.0" font-weight="bold" fill="#000" clip-path="url(#c1_38_0)">1</text>
<text transform="translate(1052.35,1167.5) scale(1.001,1)" x="-8.34" y="0" font-size="38.0" font-weight="bold" fill="#000" clip-path="url(#c1_38_0)">1</text>
<text transform="translate(1075.48,1167.5) scale(1.018,1)" x="-10.46" y="0" font-size="38.0" font-weight="bold" fill="#000">2</text>
<text transform="translate(1093.44,1167.5) scale(1.063,1)" x="-6.31" y="0" font-size="38.0" font-weight="bold" fill="#000">-</text>
<text transform="translate(1109.69,1167.5) scale(1.001,1)" x="-8.34" y="0" font-size="38.0" font-weight="bold" fill="#000" clip-path="url(#c1_38_0)">1</text>
<text transform="translate(1132.59,1167.5) scale(0.976,1)" x="-10.32" y="0" font-size="38.0" font-weight="bold" fill="#000">3</text>
<text transform="translate(1261.46,1167.5) scale(1.002,1)" x="-8.34" y="0" font-size="38.0" font-weight="bold" fill="#000" clip-path="url(#c1_38_0)">1</text>
<text transform="translate(1284.69,1167.5) scale(0.949,1)" x="-10.75" y="0" font-size="38.0" font-weight="bold" fill="#000">4</text>
<text transform="translate(1302.58,1167.5) scale(1.064,1)" x="-6.31" y="0" font-size="38.0" font-weight="bold" fill="#000">-</text>
<text transform="translate(1318.84,1167.5) scale(1.002,1)" x="-8.34" y="0" font-size="38.0" font-weight="bold" fill="#000" clip-path="url(#c1_38_0)">1</text>
<text transform="translate(1342.25,1167.5) scale(0.947,1)" x="-10.62" y="0" font-size="38.0" font-weight="bold" fill="#000">5</text>
<text transform="translate(150.07,1746.2) scale(1.005,1)" x="-8.34" y="0" font-size="38.0" font-weight="bold" fill="#000" clip-path="url(#c1_38_0)">1</text>
<text transform="translate(173.35,1746.2) scale(0.993,1)" x="-10.54" y="0" font-size="38.0" font-weight="bold" fill="#000">0</text>
<text transform="translate(191.31,1746.2) scale(1.067,1)" x="-6.31" y="0" font-size="38.0" font-weight="bold" fill="#000">-</text>
<text transform="translate(207.61,1746.2) scale(1.005,1)" x="-8.34" y="0" font-size="38.0" font-weight="bold" fill="#000" clip-path="url(#c1_38_0)">1</text>
<text transform="translate(229.03,1746.2) scale(1.005,1)" x="-8.34" y="0" font-size="38.0" font-weight="bold" fill="#000" clip-path="url(#c1_38_0)">1</text>
<text transform="translate(341.23,1746.2) scale(0.998,1)" x="-8.34" y="0" font-size="38.0" font-weight="bold" fill="#000" clip-path="url(#c1_38_0)">1</text>
<text transform="translate(364.29,1746.2) scale(1.014,1)" x="-10.46" y="0" font-size="38.0" font-weight="bold" fill="#000">2</text>
<text transform="translate(382.2,1746.2) scale(1.059,1)" x="-6.31" y="0" font-size="38.0" font-weight="bold" fill="#000">-</text>
<text transform="translate(398.39,1746.2) scale(0.998,1)" x="-8.34" y="0" font-size="38.0" font-weight="bold" fill="#000" clip-path="url(#c1_38_0)">1</text>
<text transform="translate(421.22,1746.2) scale(0.972,1)" x="-10.32" y="0" font-size="38.0" font-weight="bold" fill="#000">3</text>
<text transform="translate(550.44,1746.2) scale(1.000,1)" x="-8.34" y="0" font-size="38.0" font-weight="bold" fill="#000" clip-path="url(#c1_38_0)">1</text>
<text transform="translate(573.63,1746.2) scale(0.947,1)" x="-10.75" y="0" font-size="38.0" font-weight="bold" fill="#000">4</text>
<text transform="translate(591.49,1746.2) scale(1.062,1)" x="-6.31" y="0" font-size="38.0" font-weight="bold" fill="#000">-</text>
<text transform="translate(607.71,1746.2) scale(1.000,1)" x="-8.34" y="0" font-size="38.0" font-weight="bold" fill="#000" clip-path="url(#c1_38_0)">1</text>
<text transform="translate(631.06,1746.2) scale(0.945,1)" x="-10.62" y="0" font-size="38.0" font-weight="bold" fill="#000">5</text>
<text transform="translate(861.26,1745.3) scale(1.003,1)" x="-8.34" y="0" font-size="38.0" font-weight="bold" fill="#000" clip-path="url(#c1_38_0)">1</text>
<text transform="translate(884.49,1745.3) scale(0.991,1)" x="-10.54" y="0" font-size="38.0" font-weight="bold" fill="#000">0</text>
<text transform="translate(902.4,1745.3) scale(1.064,1)" x="-6.31" y="0" font-size="38.0" font-weight="bold" fill="#000">-</text>
<text transform="translate(918.67,1745.3) scale(1.003,1)" x="-8.34" y="0" font-size="38.0" font-weight="bold" fill="#000" clip-path="url(#c1_38_0)">1</text>
<text transform="translate(940.04,1745.3) scale(1.003,1)" x="-8.34" y="0" font-size="38.0" font-weight="bold" fill="#000" clip-path="url(#c1_38_0)">1</text>
<text transform="translate(1052.54,1745.3) scale(0.999,1)" x="-8.34" y="0" font-size="38.0" font-weight="bold" fill="#000" clip-path="url(#c1_38_0)">1</text>
<text transform="translate(1075.62,1745.3) scale(1.016,1)" x="-10.46" y="0" font-size="38.0" font-weight="bold" fill="#000">2</text>
<text transform="translate(1093.55,1745.3) scale(1.061,1)" x="-6.31" y="0" font-size="38.0" font-weight="bold" fill="#000">-</text>
<text transform="translate(1109.76,1745.3) scale(0.999,1)" x="-8.34" y="0" font-size="38.0" font-weight="bold" fill="#000" clip-path="url(#c1_38_0)">1</text>
<text transform="translate(1132.61,1745.3) scale(0.973,1)" x="-10.32" y="0" font-size="38.0" font-weight="bold" fill="#000">3</text>
<text transform="translate(1261.46,1745.3) scale(1.002,1)" x="-8.34" y="0" font-size="38.0" font-weight="bold" fill="#000" clip-path="url(#c1_38_0)">1</text>
<text transform="translate(1284.69,1745.3) scale(0.949,1)" x="-10.75" y="0" font-size="38.0" font-weight="bold" fill="#000">4</text>
<text transform="translate(1302.58,1745.3) scale(1.064,1)" x="-6.31" y="0" font-size="38.0" font-weight="bold" fill="#000">-</text>
<text transform="translate(1318.84,1745.3) scale(1.002,1)" x="-8.34" y="0" font-size="38.0" font-weight="bold" fill="#000" clip-path="url(#c1_38_0)">1</text>
<text transform="translate(1342.25,1745.3) scale(0.947,1)" x="-10.62" y="0" font-size="38.0" font-weight="bold" fill="#000">5</text></g>
</svg></body></html>
